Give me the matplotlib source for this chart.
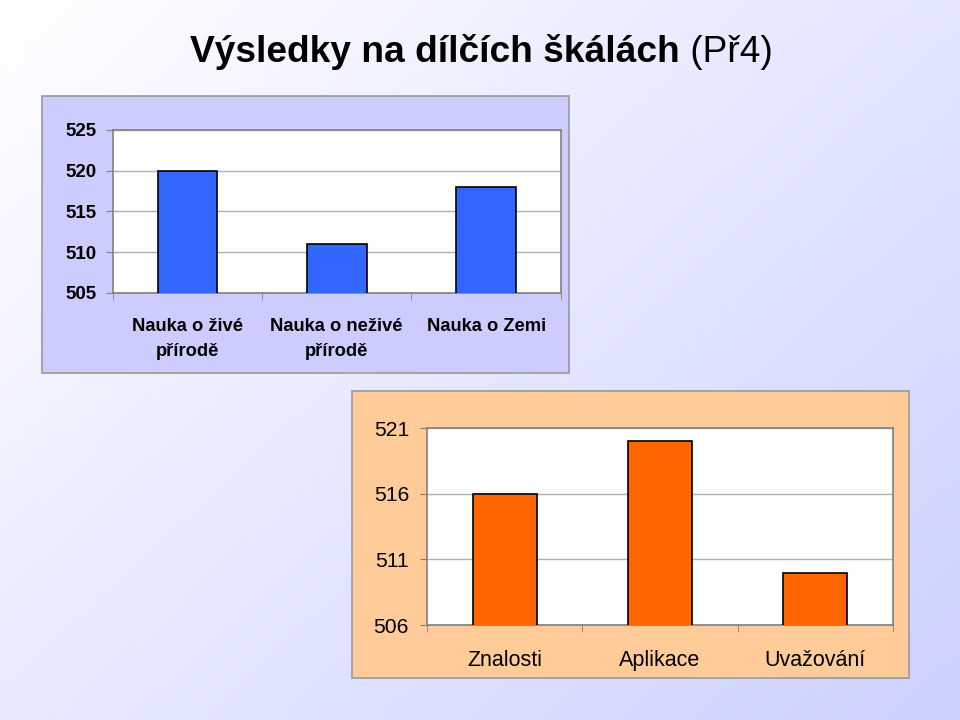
import numpy as np
import matplotlib
matplotlib.use("Agg")
import matplotlib.pyplot as plt
import matplotlib.patches as patches

plt.rcParams['font.family'] = ['Liberation Sans', 'DejaVu Sans']

# Data
title_bold = "Výsledky na dílčích škálách"
title_rest = " (Př4)"

top_categories = ["Nauka o živé\npřírodě", "Nauka o neživé\npřírodě", "Nauka o Zemi"]
top_values = [520, 511, 518]
top_ticks = [505, 510, 515, 520, 525]

bottom_categories = ["Znalosti", "Aplikace", "Uvažování"]
bottom_values = [516, 520, 510]
bottom_ticks = [506, 511, 516, 521]

fig = plt.figure(figsize=(9.6, 7.2), dpi=100)

# Background gradient (white top-left -> lavender bottom-right)
bg = fig.add_axes([0, 0, 1, 1], zorder=-2)
bg.set_axis_off()
xx, yy = np.meshgrid(np.linspace(0, 1, 200), np.linspace(0, 1, 150))
t = np.clip((0.55 * xx + 0.45 * yy), 0, 1)
end = np.array([0.80, 0.82, 1.0])
img = np.ones((150, 200, 3)) * (1 - t[..., None]) + end * t[..., None]
bg.imshow(img, aspect='auto', extent=[0, 1, 0, 1], origin='upper')
bg.set_xlim(0, 1)
bg.set_ylim(0, 1)

# Panel boxes
fig.patches.append(patches.Rectangle((0.04375, 0.4819), 0.549, 0.3847, transform=fig.transFigure,
                                     facecolor='#ccccff', edgecolor='#999999', linewidth=1.2, zorder=-1))
fig.patches.append(patches.Rectangle((0.3667, 0.0583), 0.5802, 0.3986, transform=fig.transFigure,
                                     facecolor='#ffcc99', edgecolor='#999999', linewidth=1.2, zorder=-1))


def style_axes(ax, cats, ticks, ylim, label_size, tick_size, weight_x, weight_y, ypad, linesp):
    ax.set_facecolor('white')
    ax.set_xlim(-0.5, len(cats) - 0.5)
    ax.set_ylim(*ylim)
    ax.set_yticks(ticks)
    ax.set_yticklabels([str(v) for v in ticks], fontsize=tick_size, fontweight=weight_y)
    ax.yaxis.grid(True, color='#b0b0b0', linewidth=1)
    ax.set_axisbelow(True)
    ax.set_xticks(np.arange(len(cats)))
    ax.set_xticklabels(cats, fontsize=label_size, fontweight=weight_x, linespacing=linesp, va='top')
    ax.tick_params(axis='x', length=0, pad=18)
    ax.set_xticks(np.arange(len(cats) + 1) - 0.5, minor=True)
    ax.tick_params(axis='x', which='minor', length=5, color='#808080', direction='out')
    ax.tick_params(axis='y', length=5, color='#808080', direction='out', pad=ypad)
    for s in ax.spines.values():
        s.set_color('#808080')
        s.set_linewidth(1.2)


# Top chart
ax1 = fig.add_axes([0.1174, 0.5931, 0.4667, 0.2264], zorder=1)
ax1.bar(np.arange(len(top_values)), top_values, width=0.4, color='#3366ff', edgecolor='black',
        linewidth=1.2, zorder=3)
style_axes(ax1, top_categories, top_ticks, (505, 525), 13.2, 13.5, 'bold', 'bold', 6.5, 1.6)

# Bottom chart
ax2 = fig.add_axes([0.4448, 0.1319, 0.4854, 0.2736], zorder=1)
ax2.bar(np.arange(len(bottom_values)), bottom_values, width=0.41, color='#ff6600', edgecolor='black',
        linewidth=1.2, zorder=3)
style_axes(ax2, bottom_categories, bottom_ticks, (506, 521), 15.5, 15.2, 'normal', 'normal', 8, 1.2)

# Title with bold part and regular part
t1 = fig.text(0.198, 0.914, title_bold, fontsize=26.7, fontweight='bold', ha='left', va='baseline')
fig.canvas.draw()
bb = t1.get_window_extent(fig.canvas.get_renderer())
x_end = bb.x1 / fig.bbox.width
fig.text(x_end, 0.914, title_rest, fontsize=26.7, fontweight='normal', ha='left', va='baseline')

fig.savefig("out.png", dpi=100)
